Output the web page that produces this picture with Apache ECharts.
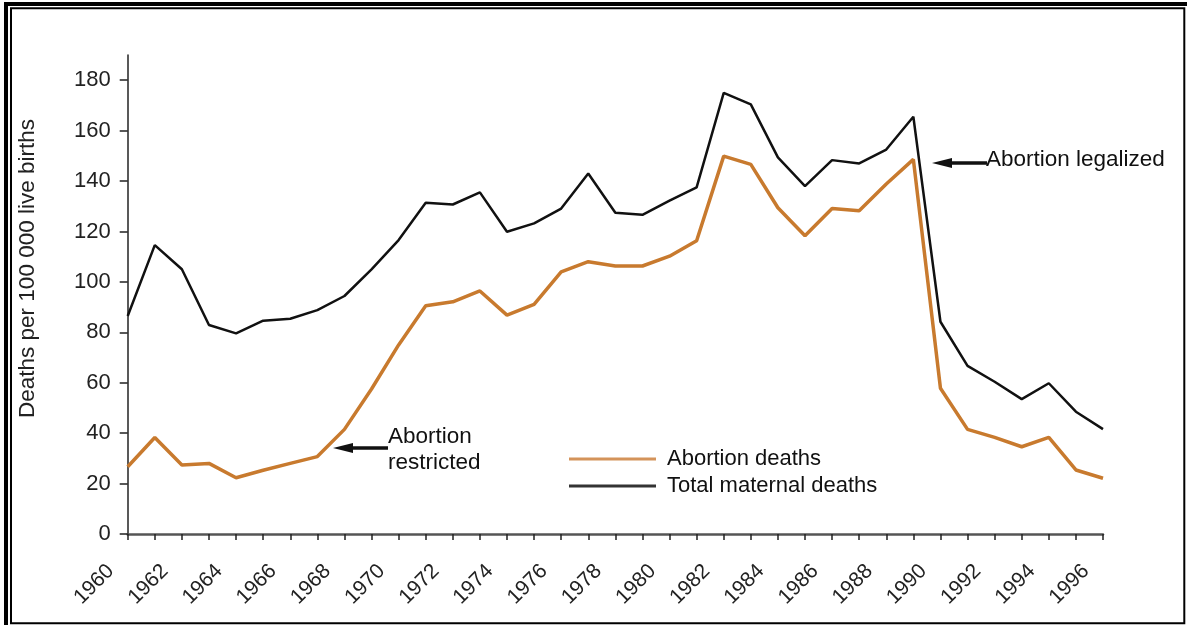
<!DOCTYPE html>
<html>
<head>
<meta charset="utf-8">
<script src="https://cdn.jsdelivr.net/npm/echarts@6/dist/echarts.min.js"></script>
<style>
  html, body { margin: 0; padding: 0; background: #fff; }
  #chart { width: 1187px; height: 625px; }
</style>
</head>
<body>
<div id="chart"></div>
<script>
var years = [];
for (var y = 1960; y <= 1996; y++) years.push(String(y));

var abortionDeaths = [26.7, 38.3, 27.4, 28.0, 22.3, 25.3, 28.0, 30.7, 41.5, 57.5, 75.0,
  90.5, 92.1, 96.4, 86.8, 91.1, 104.0, 108.0, 106.3, 106.3, 110.2, 116.3,
  149.9, 146.6, 129.4, 118.3, 129.1, 128.2, 138.8, 148.6,
  57.8, 41.5, 38.3, 34.6, 38.3, 25.4, 22.1];

var totalDeaths = [86.5, 114.6, 105.0, 82.9, 79.6, 84.6, 85.4, 88.8, 94.4, 105.0, 116.6,
  131.4, 130.7, 135.5, 119.9, 123.2, 129.1, 143.0, 127.4, 126.6, 132.2, 137.5,
  175.0, 170.4, 149.4, 138.0, 148.3, 147.0, 152.5, 165.5,
  84.2, 66.7, 60.4, 53.5, 59.8, 48.5, 41.6];

var yTicks = [0, 20, 40, 60, 80, 100, 120, 140, 160, 180];

var FONT = 'Liberation Sans, Arial, Helvetica, sans-serif';
var ORANGE = '#C87A2E';

var chartDom = document.getElementById('chart');
var myChart = echarts.init(chartDom);

function arrow(x1, x2, y) {
  // arrow pointing left, tip at x1
  return [{
    type: 'rect',
    shape: { x: x1 + 14, y: y - 1.75, width: x2 - x1 - 14, height: 3.5 },
    style: { fill: '#111' }
  }, {
    type: 'polygon',
    shape: { points: [[x1, y], [x1 + 20, y - 5], [x1 + 20, y + 5]] },
    style: { fill: '#111' }
  }];
}

var option = {
  animation: false,
  backgroundColor: '#fff',
  textStyle: { fontFamily: FONT },
  grid: { left: 127.7, right: 84, top: 55, bottom: 91 },
  legend: {
    orient: 'vertical',
    left: 569,
    top: 448,
    padding: 0,
    itemWidth: 87,
    itemHeight: 3,
    itemGap: 5,
    icon: 'rect',
    textStyle: { fontSize: 22, color: '#111', fontFamily: FONT, padding: [0, 0, 3, 6] },
    data: [
      { name: 'Abortion deaths', itemStyle: { color: '#D4935A' } },
      { name: 'Total maternal deaths', itemStyle: { color: '#333' } }
    ]
  },
  xAxis: {
    type: 'category',
    data: years,
    boundaryGap: false,
    axisLine: { lineStyle: { color: '#555', width: 2.5 } },
    axisTick: { show: true, interval: 0, length: 6, lineStyle: { color: '#222', width: 1.5 } },
    axisLabel: {
      interval: 1,
      rotate: 45,
      fontSize: 21,
      color: '#222',
      fontFamily: FONT,
      margin: 17,
      padding: [0, 24, 0, 0]
    },
    splitLine: { show: false }
  },
  yAxis: {
    type: 'value',
    min: 0,
    max: 190,
    interval: 20,
    name: 'Deaths per 100 000 live births',
    nameLocation: 'middle',
    nameRotate: 90,
    nameGap: 88,
    nameTextStyle: { fontSize: 22.5, color: '#222', fontFamily: FONT, padding: [0, 0, 0, 52] },
    axisLine: { show: true, lineStyle: { color: '#222', width: 1.5 } },
    axisTick: { show: true, length: 8, customValues: yTicks, lineStyle: { color: '#222', width: 1.5 } },
    axisLabel: { fontSize: 22, color: '#222', fontFamily: FONT, margin: 17, customValues: yTicks },
    splitLine: { show: false }
  },
  series: [{
    name: 'Abortion deaths',
    type: 'line',
    data: abortionDeaths,
    showSymbol: false,
    symbol: 'none',
    lineStyle: { color: ORANGE, width: 3.5 },
    itemStyle: { color: ORANGE },
    z: 2
  }, {
    name: 'Total maternal deaths',
    type: 'line',
    data: totalDeaths,
    showSymbol: false,
    symbol: 'none',
    lineStyle: { color: '#111', width: 2.5 },
    itemStyle: { color: '#111' },
    z: 3
  }],
  graphic: [
    { type: 'rect', shape: { x: 4, y: 2, width: 1183, height: 4 }, style: { fill: '#000' } },
    { type: 'rect', shape: { x: 4, y: 2, width: 4, height: 623 }, style: { fill: '#000' } },
    { type: 'rect', shape: { x: 11, y: 8.3, width: 1173.3, height: 615 }, style: { fill: 'none', stroke: '#000', lineWidth: 2 } },
    { type: 'text', left: 986, top: 148, style: { text: 'Abortion legalized', fontSize: 22.5, fill: '#111', fontFamily: FONT } },
    { type: 'text', left: 388, top: 424, style: { text: 'Abortion\nrestricted', fontSize: 22.5, lineHeight: 26, fill: '#111', fontFamily: FONT } }
  ].concat(arrow(932, 987, 163)).concat(arrow(333, 388, 448))
};

option && myChart.setOption(option);
</script>
</body>
</html>
